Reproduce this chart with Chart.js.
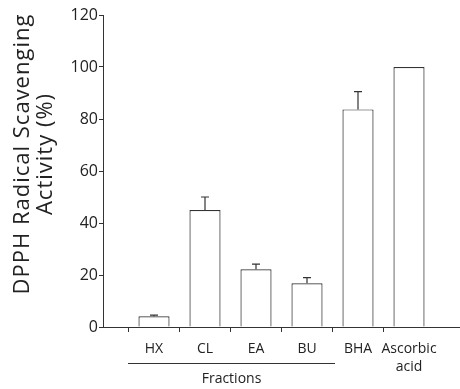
<!DOCTYPE html>
<html>
<head>
<meta charset="utf-8">
<script src="https://cdn.jsdelivr.net/npm/chart.js@4.4.1/dist/chart.umd.min.js"></script>
<style>
  html, body { margin: 0; padding: 0; background: #fff; }
  #wrap { width: 460px; height: 389px; }
</style>
</head>
<body>
<div id="wrap"><canvas id="chart"></canvas></div>
<script>
// padded with empty slots at both ends so the axis runs edge to edge
const labels = ['', 'HX', 'CL', 'EA', 'BU', 'BHA', ['Ascorbic', 'acid'], ''];
const activity = [null, 4.1, 45, 22.2, 16.8, 83.7, 100, null];
const errors = [0, 0.5, 5, 2, 2.2, 6.8, 0, 0];
const yTicks = [0, 20, 40, 60, 80, 100, 120];
const groupLabel = 'Fractions';
const yTitle = ['DPPH Radical Scavenging', 'Activity (%)'];

const FONT = '"Open Sans", "Noto Sans", sans-serif';
const INK = '#222';

// error bars, only upward with a cap
const errorBars = {
  id: 'errorBars',
  afterDatasetsDraw(chart) {
    const { ctx, scales: { y } } = chart;
    const meta = chart.getDatasetMeta(0);
    ctx.save();
    ctx.strokeStyle = '#333';
    ctx.lineWidth = 1.2;
    meta.data.forEach((bar, i) => {
      if (activity[i] == null || !errors[i]) return;
      const top = y.getPixelForValue(activity[i] + errors[i]);
      ctx.beginPath();
      ctx.moveTo(bar.x, bar.y);
      ctx.lineTo(bar.x, top);
      ctx.moveTo(bar.x - 4, top);
      ctx.lineTo(bar.x + 4, top);
      ctx.stroke();
    });
    ctx.restore();
  }
};

// y title in two lines + the "Fractions" bracket under the axis
const extras = {
  id: 'extras',
  afterDraw(chart) {
    const { ctx, scales: { x } } = chart;
    ctx.save();
    ctx.fillStyle = INK;
    ctx.textAlign = 'center';
    ctx.textBaseline = 'middle';
    ctx.font = '22px ' + FONT;
    ctx.letterSpacing = '1px';
    ctx.translate(23, 154);
    ctx.rotate(-Math.PI / 2);
    ctx.fillText(yTitle[0], 0, 0);
    ctx.fillText(yTitle[1], 0, 23);
    ctx.restore();

    ctx.save();
    const x1 = x.getPixelForValue(1) - 26;
    const x2 = x.getPixelForValue(4) + 28;
    ctx.strokeStyle = '#333';
    ctx.lineWidth = 1;
    ctx.beginPath();
    ctx.moveTo(x1, 363.5);
    ctx.lineTo(x2, 363.5);
    ctx.stroke();
    ctx.fillStyle = INK;
    ctx.textAlign = 'center';
    ctx.textBaseline = 'middle';
    ctx.font = '14px ' + FONT;
    ctx.fillText(groupLabel, (x1 + x2) / 2, 379);
    ctx.restore();
  }
};

new Chart(document.getElementById('chart'), {
  type: 'bar',
  data: {
    labels: labels,
    datasets: [{
      data: activity,
      backgroundColor: '#fff',
      borderColor: '#333',
      borderWidth: 1.2,
      categoryPercentage: 1,
      barPercentage: 0.61
    }]
  },
  options: {
    responsive: true,
    maintainAspectRatio: false,
    animation: false,
    layout: { padding: { top: 15, right: -4, left: 0, bottom: 0 } },
    plugins: { legend: { display: false }, tooltip: { enabled: false } },
    scales: {
      x: {
        offset: false,
        grid: {
          drawOnChartArea: false,
          tickLength: 5,
          tickColor: ctx => (ctx.tick && ctx.tick.label === '' ? 'rgba(0,0,0,0)' : '#333')
        },
        border: { color: '#333', width: 1 },
        ticks: {
          color: INK,
          font: { family: FONT, size: 14, lineHeight: 1.3 },
          padding: 8,
          maxRotation: 0,
          autoSkip: false
        },
        afterFit: s => {
          s.height = 62;
          s.paddingLeft = 0;
          s.paddingRight = 0;
        }
      },
      y: {
        min: 0,
        max: 120,
        afterBuildTicks: s => { s.ticks = yTicks.map(v => ({ value: v })); },
        grid: { drawOnChartArea: false, tickLength: 4, tickColor: '#333' },
        border: { color: '#333', width: 1 },
        ticks: {
          color: INK,
          font: { family: FONT, size: 16 },
          padding: 1
        },
        afterFit: s => { s.width = 103; }
      }
    }
  },
  plugins: [errorBars, extras]
});
</script>
</body>
</html>
